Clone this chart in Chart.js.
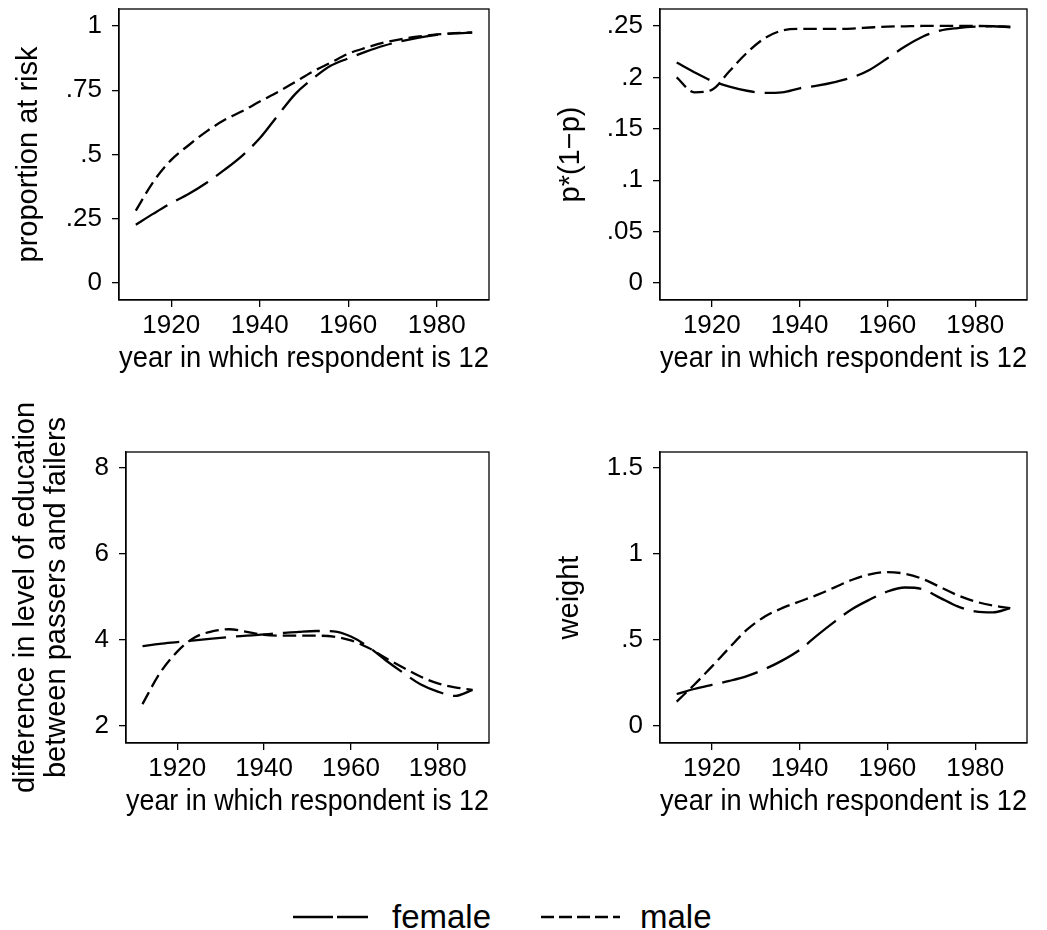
<!DOCTYPE html>
<html>
<head>
<meta charset="utf-8">
<script src="https://cdn.jsdelivr.net/npm/chart.js@4.4.0/dist/chart.umd.min.js"></script>
<style>
body { margin:0; background:#fff; width:1047px; height:930px; position:relative; overflow:hidden; font-family:"Liberation Sans", Arial, sans-serif; }
.panel { position:absolute; }
#legend { position:absolute; left:0; top:880px; }
</style>
</head>
<body>
<div class="panel" style="left:0;top:0"><canvas id="c1" width="523" height="400"></canvas></div>
<div class="panel" style="left:523px;top:0"><canvas id="c2" width="524" height="400"></canvas></div>
<div class="panel" style="left:0;top:400px"><canvas id="c3" width="523" height="450"></canvas></div>
<div class="panel" style="left:523px;top:400px"><canvas id="c4" width="524" height="450"></canvas></div>

<svg id="legend" width="1047" height="50">
  <line x1="293" y1="37" x2="368" y2="37" stroke="#000" stroke-width="2.3" stroke-dasharray="40 4"/>
  <text x="392" y="48" font-size="33" font-family="Liberation Sans, Arial, sans-serif">female</text>
  <line x1="541" y1="37" x2="620" y2="37" stroke="#000" stroke-width="2.3" stroke-dasharray="13 5"/>
  <text x="640" y="48" font-size="33" font-family="Liberation Sans, Arial, sans-serif">male</text>
</svg>

<script>
// year in which respondent is 12
var years = [1912,1916,1920,1924,1928,1932,1936,1940,1944,1948,1952,1956,1960,1964,1968,1972,1976,1980,1984,1988];

// proportion at risk
var riskFemale = [.227,.270,.311,.347,.390,.440,.495,.563,.650,.735,.795,.845,.874,.900,.923,.941,.955,.965,.971,.974];
var riskMale   = [.282,.395,.479,.537,.590,.634,.668,.706,.742,.782,.823,.857,.892,.915,.935,.949,.959,.967,.972,.975];

// p*(1-p)
var varFemale = [.2144,.2050,.1966,.1910,.1870,.1850,.1855,.1894,.1920,.1955,.2000,.2075,.2186,.2300,.2395,.2455,.2480,.2494,.2497,.2487];
var varMale   = [.2001,.1855,.1878,.2060,.2240,.2380,.2455,.2471,.2471,.2471,.2475,.2485,.2494,.2497,.2500,.2500,.2500,.2500,.2498,.2494];

// difference in level of education
var eduFemale = [3.86,3.91,3.95,3.99,4.03,4.07,4.10,4.13,4.16,4.19,4.21,4.20,4.08,3.84,3.53,3.24,2.97,2.80,2.70,2.84];
var eduMale   = [2.51,3.23,3.73,4.06,4.20,4.25,4.19,4.12,4.10,4.10,4.10,4.08,3.99,3.82,3.58,3.36,3.15,2.99,2.90,2.84];

// weight
var weightFemale = [.186,.215,.239,.262,.290,.330,.380,.442,.527,.607,.680,.735,.782,.805,.795,.745,.695,.666,.660,.685];
var weightMale   = [.142,.240,.345,.455,.560,.635,.685,.724,.762,.806,.850,.882,.895,.885,.855,.808,.760,.724,.700,.685];

var xTicks = [1920,1940,1960,1980];
var riskTicks = [0,.25,.5,.75,1];
var varTicks = [0,.05,.1,.15,.2,.25];
var eduTicks = [2,4,6,8];
var weightTicks = [0,.5,1,1.5];

var family = '"Liberation Sans", Arial, sans-serif';

// stata style labels: .25 instead of 0.25
function stataLabel(v){
    return String(v).replace(/^0\./, '.');
}

// closed box round the plot region
var framePlugin = {
    id: 'frame',
    afterDraw: function(chart){
        var a = chart.chartArea, ctx = chart.ctx;
        ctx.save();
        ctx.strokeStyle = '#000';
        ctx.lineWidth = 1.3;
        ctx.strokeRect(a.left, a.top, a.right - a.left, a.bottom - a.top);
        ctx.restore();
    }
};

function toPoints(vals){
    return years.map(function(y, i){ return {x: y, y: vals[i]}; });
}

// no extra room for the edge labels, the layout padding does it
function noPad(s){
    s.paddingTop = 0; s.paddingBottom = 0;
    s.paddingLeft = 0; s.paddingRight = 0;
}

function panel(id, geo, yTitle, yMin, yMax, yTicks, female, male){
    return new Chart(document.getElementById(id), {
        type: 'line',
        data: {
            datasets: [{
                label: 'female',
                data: toPoints(female),
                borderColor: '#000',
                borderWidth: 2.3,
                borderDash: [37, 10],
                pointRadius: 0,
                cubicInterpolationMode: 'monotone',
                fill: false
            }, {
                label: 'male',
                data: toPoints(male),
                borderColor: '#000',
                borderWidth: 2.3,
                borderDash: [13.5, 6],
                pointRadius: 0,
                cubicInterpolationMode: 'monotone',
                fill: false
            }]
        },
        options: {
            responsive: false,
            animation: false,
            devicePixelRatio: 1,
            layout: { padding: { top: geo.top, right: geo.right, left: 0, bottom: 0 } },
            plugins: { legend: { display: false }, tooltip: { enabled: false } },
            scales: {
                x: {
                    type: 'linear',
                    min: 1908.2,
                    max: 1991.8,
                    afterBuildTicks: function(s){ s.ticks = xTicks.map(function(v){ return {value: v}; }); },
                    afterFit: function(s){ s.height = geo.xh; noPad(s); },
                    grid: { drawOnChartArea: false, tickLength: 7, color: '#000', lineWidth: 1.3 },
                    border: { color: '#000', width: 1.3 },
                    ticks: { color: '#000', font: { size: 26, family: family }, padding: 3, maxRotation: 0,
                             callback: function(v){ return String(v); } },
                    title: { display: true, text: 'year in which respondent is 12', color: '#000',
                             font: { size: 29, family: family }, padding: { top: 0, bottom: geo.xtp } }
                },
                y: {
                    min: yMin,
                    max: yMax,
                    afterBuildTicks: function(s){ s.ticks = yTicks.map(function(v){ return {value: v}; }); },
                    afterFit: function(s){ s.width = geo.yw; noPad(s); },
                    grid: { drawOnChartArea: false, tickLength: 7, color: '#000', lineWidth: 1.3 },
                    border: { color: '#000', width: 1.3 },
                    ticks: { color: '#000', font: { size: 26, family: family }, padding: 10,
                             callback: function(v){ return stataLabel(v); } },
                    title: { display: true, text: yTitle, color: '#000',
                             font: { size: 29, family: family, lineHeight: geo.ylh || 1.2 },
                             padding: { top: geo.ytp, bottom: 0 } }
                }
            }
        },
        plugins: [framePlugin]
    });
}

panel('c1', {top: 9, right: 34, xh: 100, yw: 119, xtp: 23.6, ytp: 11.6},
      'proportion at risk', -0.066, 1.066, riskTicks, riskFemale, riskMale);
panel('c2', {top: 9, right: 20, xh: 100, yw: 137, xtp: 23.6, ytp: 30.6},
      'p*(1\u2212p)', -0.0165, 0.2665, varTicks, varFemale, varMale);
panel('c3', {top: 52, right: 34, xh: 107, yw: 126, xtp: 30.6, ytp: 10.5, ylh: 1.07},
      ['difference in level of education', 'between passers and failers'], 1.605, 8.372, eduTicks, eduFemale, eduMale);
panel('c4', {top: 52, right: 20, xh: 107, yw: 137, xtp: 30.6, ytp: 29.6},
      'weight', -0.099, 1.593, weightTicks, weightFemale, weightMale);
</script>
</body>
</html>
